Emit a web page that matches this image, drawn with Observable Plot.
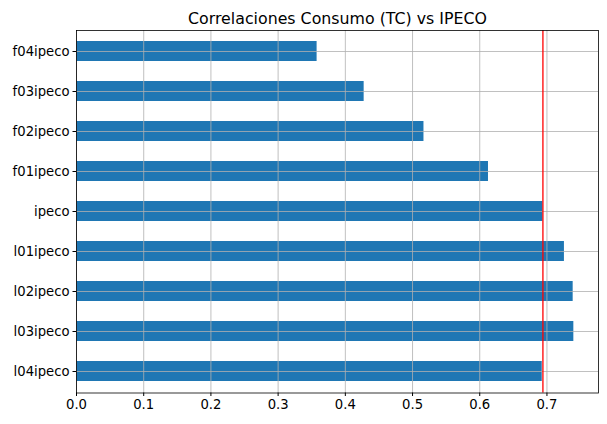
<!DOCTYPE html>
<html>
<head>
<meta charset="utf-8">
<script src="https://cdn.jsdelivr.net/npm/d3@7"></script>
<script src="https://cdn.jsdelivr.net/npm/@observablehq/plot@0.6"></script>
<style>
  html, body { margin: 0; padding: 0; background: white; }
</style>
</head>
<body>
<div id="chart"></div>
<script>
const categories = ["f04ipeco", "f03ipeco", "f02ipeco", "f01ipeco", "ipeco", "l01ipeco", "l02ipeco", "l03ipeco", "l04ipeco"];
const values = [0.358, 0.428, 0.517, 0.613, 0.694, 0.726, 0.739, 0.740, 0.693];
const xTicks = [0, 0.1, 0.2, 0.3, 0.4, 0.5, 0.6, 0.7];
const refLine = [0.694];
const title = "Correlaciones Consumo (TC) vs IPECO";

const data = categories.map((c, i) => ({cat: c, value: values[i]}));
const fmt = d3.format(".1f");

const chart = Plot.plot({
  width: 607,
  height: 424,
  marginLeft: 76,
  marginRight: 9,
  marginTop: 30,
  marginBottom: 31.5,
  style: {fontFamily: "DejaVu Sans", fontSize: "13.2px", color: "black", background: "white"},
  x: {domain: [0, 0.7767], label: null},
  y: {domain: categories, paddingInner: 0.5, paddingOuter: 0.25, label: null},
  marks: [
    Plot.barX(data, {x: "value", y: "cat", fill: "#1f77b4"}),
    Plot.gridX({ticks: xTicks, stroke: "#b0b0b0", strokeOpacity: 1, strokeWidth: 0.8}),
    Plot.gridY({stroke: "#b0b0b0", strokeOpacity: 1, strokeWidth: 0.8}),
    Plot.ruleX(refLine, {stroke: "red", strokeWidth: 1.3}),
    Plot.axisX({ticks: xTicks, tickFormat: fmt, tickSize: 3.5, tickPadding: 3.5, label: null}),
    Plot.axisY({tickSize: 3.5, tickPadding: 3.5, label: null}),
    Plot.frame({stroke: "black", strokeWidth: 0.8}),
    Plot.text([title], {frameAnchor: "top", dy: -18, fontSize: 15.8, fill: "black"})
  ]
});
document.getElementById("chart").appendChild(chart);
</script>
</body>
</html>
